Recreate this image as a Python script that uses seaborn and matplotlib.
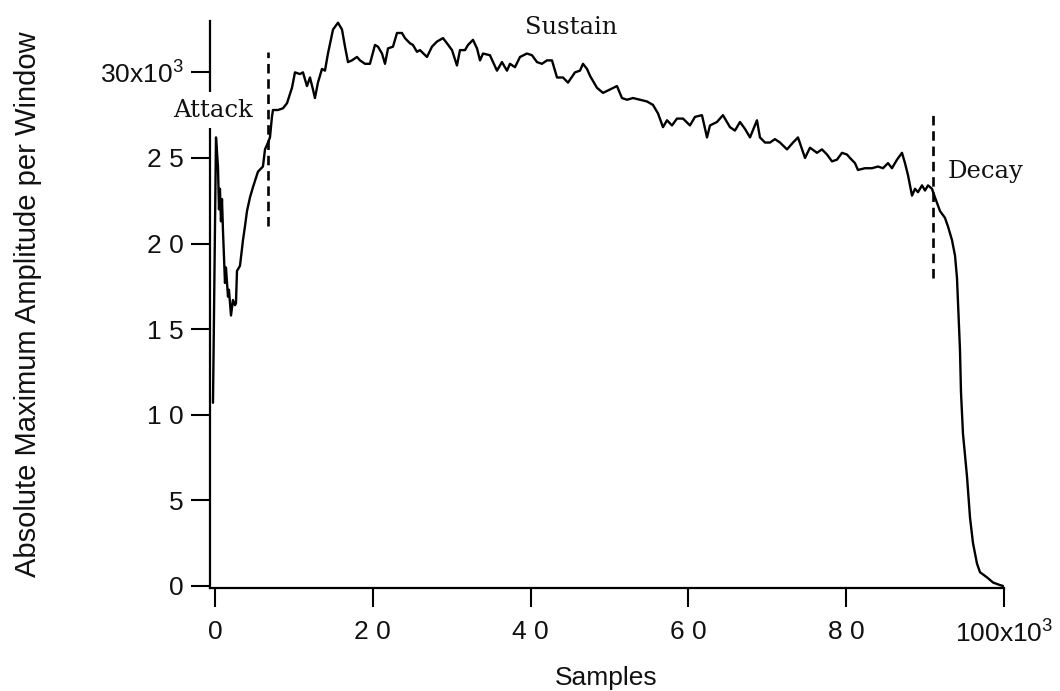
import matplotlib
matplotlib.use("Agg")
import matplotlib.pyplot as plt
import seaborn as sns
import pandas as pd

# ---- data (x in thousands of samples, y in thousands) ----
samples_k = [
    -0.25, 0.13, 0.38, 0.51, 0.63, 0.76, 0.89, 1.01, 1.27, 1.39, 1.65, 1.77, 2.03, 2.28,
    2.53, 2.66, 2.79, 3.17, 3.55, 3.80, 4.06, 4.44, 4.82, 5.45, 6.08, 6.34, 6.72, 6.97,
    7.22, 7.35, 7.98, 8.62, 9.13, 9.76, 10.14, 10.77, 11.15, 11.66, 12.04, 12.42, 12.67,
    13.05, 13.56, 13.94, 14.32, 14.96, 15.59, 16.10, 16.48, 16.86, 17.36, 18.00, 18.38,
    19.01, 19.64, 20.28, 20.66, 21.17, 21.55, 21.93, 22.56, 23.07, 23.70, 24.08, 24.71,
    25.09, 25.60, 25.98, 26.87, 27.50, 28.14, 28.90, 29.40, 30.04, 30.67, 31.05, 31.69,
    32.07, 32.70, 33.21, 33.59, 33.97, 34.85, 35.74, 36.37, 37.01, 37.39, 38.02, 38.66,
    39.54, 40.18, 40.81, 41.44, 42.08, 42.71, 43.35, 44.11, 44.74, 45.63, 46.26, 46.64,
    47.15, 47.53, 48.41, 49.18, 50.06, 50.95, 51.58, 52.22, 52.98, 53.86, 54.75, 55.51,
    56.15, 56.78, 57.29, 57.92, 58.55, 59.32, 60.20, 60.84, 61.72, 62.36, 62.74, 63.62,
    64.38, 65.27, 65.90, 66.54, 67.17, 67.81, 68.69, 69.07, 69.71, 70.34, 70.97, 71.61,
    72.50, 73.26, 73.89, 74.78, 75.41, 76.30, 76.93, 77.57, 78.20, 78.83, 79.47, 80.10,
    80.48, 81.11, 81.49, 82.38, 83.27, 84.03, 84.66, 85.30, 85.80, 86.44, 87.07, 87.45,
    87.83, 88.34, 88.72, 89.10, 89.61, 89.99, 90.37, 90.87, 91.25, 91.89, 92.52, 92.90,
    93.41, 93.79, 94.04, 94.30, 94.42, 94.55, 94.80, 95.31, 95.69, 96.07, 96.58, 96.96,
    97.85, 98.61, 99.49, 99.87,
]
amplitude_k = [
    10.7, 26.2, 24.5, 22.0, 23.2, 21.3, 22.6, 20.8, 17.7, 18.6, 16.9, 17.3, 15.8, 16.7,
    16.4, 16.5, 18.4, 18.7, 20.2, 21.0, 21.9, 22.7, 23.3, 24.2, 24.5, 25.5, 25.9, 26.2,
    27.4, 27.8, 27.8, 27.9, 28.2, 29.1, 30.0, 29.9, 30.0, 29.2, 29.7, 29.0, 28.5,
    29.4, 30.2, 30.1, 31.1, 32.5, 32.9, 32.5, 31.5, 30.6, 30.7, 30.9, 30.7,
    30.5, 30.5, 31.6, 31.5, 31.1, 30.5, 31.4, 31.5, 32.3, 32.3, 32.0, 31.7,
    31.6, 31.2, 31.3, 30.9, 31.5, 31.8, 32.0, 31.7, 31.3, 30.4, 31.3, 31.3,
    31.6, 31.9, 31.4, 30.7, 31.1, 31.0, 30.1, 30.6, 30.1, 30.5, 30.3, 30.9,
    31.1, 31.0, 30.6, 30.5, 30.7, 30.7, 29.7, 29.7, 29.4, 30.0, 30.1, 30.5,
    30.2, 29.8, 29.1, 28.8, 29.0, 29.2, 28.5, 28.4, 28.5, 28.4, 28.3, 28.1,
    27.6, 26.8, 27.2, 26.9, 27.3, 27.3, 26.9, 27.4, 27.5, 26.2, 26.9, 27.1,
    27.5, 26.8, 26.6, 27.1, 26.7, 26.2, 27.2, 26.2, 25.9, 25.9, 26.1, 25.9,
    25.5, 25.9, 26.2, 25.0, 25.6, 25.3, 25.5, 25.2, 24.8, 24.9, 25.3, 25.2,
    25.0, 24.7, 24.3, 24.4, 24.4, 24.5, 24.4, 24.7, 24.4, 24.9, 25.3, 24.7,
    24.0, 22.8, 23.2, 23.0, 23.4, 23.1, 23.4, 23.2, 22.7, 21.9, 21.5, 21.0,
    20.2, 19.3, 18.0, 15.1, 13.8, 11.3, 8.9, 6.4, 4.0, 2.5, 1.3, 0.8,
    0.5, 0.2, 0.05, 0.0,
]

x_ticks = [0, 20, 40, 60, 80, 100]
x_tick_labels = ["0", "2 0", "4 0", "6 0", "8 0", "100x10$^{3}$"]
y_ticks = [0, 5, 10, 15, 20, 25, 30]
y_tick_labels = ["0", "5", "1 0", "1 5", "2 0", "2 5", "30x10$^{3}$"]

phase_names = ["Attack", "Sustain", "Decay"]
phase_label_x = [-0.25, 45.1, 97.6]
phase_label_y = [27.8, 32.6, 24.2]
boundary_x = [6.72, 91.0]
boundary_y0 = [21.0, 18.0]
boundary_y1 = [31.2, 27.5]

# ---- styling ----
sns.set_theme(style="ticks")
plt.rcParams["font.family"] = ["Liberation Sans", "DejaVu Sans"]
plt.rcParams["mathtext.fontset"] = "custom"
plt.rcParams["mathtext.rm"] = "Liberation Sans"
plt.rcParams["mathtext.it"] = "Liberation Sans"
plt.rcParams["mathtext.default"] = "regular"

fig = plt.figure(figsize=(10.6, 6.91), dpi=100)
fig.patch.set_facecolor("white")
ax = fig.add_axes([210 / 1060, (691 - 588) / 691, (1004 - 210) / 1060, (588 - 21) / 691])
ax.set_facecolor("white")

df = pd.DataFrame({"Samples": samples_k, "Amplitude": amplitude_k})
sns.lineplot(data=df, x="Samples", y="Amplitude", color="black", linewidth=1.7,
             estimator=None, sort=False, ax=ax)

for bx, b0, b1 in zip(boundary_x, boundary_y0, boundary_y1):
    ax.plot([bx, bx], [b0, b1], color="black", linewidth=1.9,
            linestyle=(0, (3.6, 2.2)), zorder=2)

ax.set_xlim(-0.63, 99.9)
ax.set_ylim(-0.12, 33.0)

ax.set_xticks(x_ticks)
ax.set_xticklabels(x_tick_labels)
ax.set_yticks(y_ticks)
ax.set_yticklabels(y_tick_labels)

ax.tick_params(axis="both", direction="out", length=14, width=1.5, color="black",
               labelsize=19, labelcolor="#111111")
ax.tick_params(axis="x", pad=9)
ax.tick_params(axis="y", pad=5)

for side in ["top", "right"]:
    ax.spines[side].set_visible(False)
for side in ["left", "bottom"]:
    ax.spines[side].set_linewidth(1.6)
    ax.spines[side].set_color("black")

ax.set_xlabel("")
ax.set_ylabel("")
fig.text(606 / 1060, 1 - 678 / 691, "Samples", ha="center", va="center",
         fontsize=19, color="#111111")
fig.text(28 / 1060, 1 - 304 / 691, "Absolute Maximum Amplitude per Window",
         rotation=90, ha="center", va="center", fontsize=21, color="#111111")

for name, tx, ty in zip(phase_names, phase_label_x, phase_label_y):
    kw = dict(ha="center", va="center", fontsize=17.5, family="DejaVu Serif",
              color="#111111", clip_on=False, zorder=5)
    if name == "Attack":
        kw["bbox"] = dict(boxstyle="square,pad=0.25", facecolor="white", edgecolor="none")
    ax.text(tx, ty, name, **kw)

ax.grid(False)
fig.savefig("out.png", dpi=100, facecolor="white")
